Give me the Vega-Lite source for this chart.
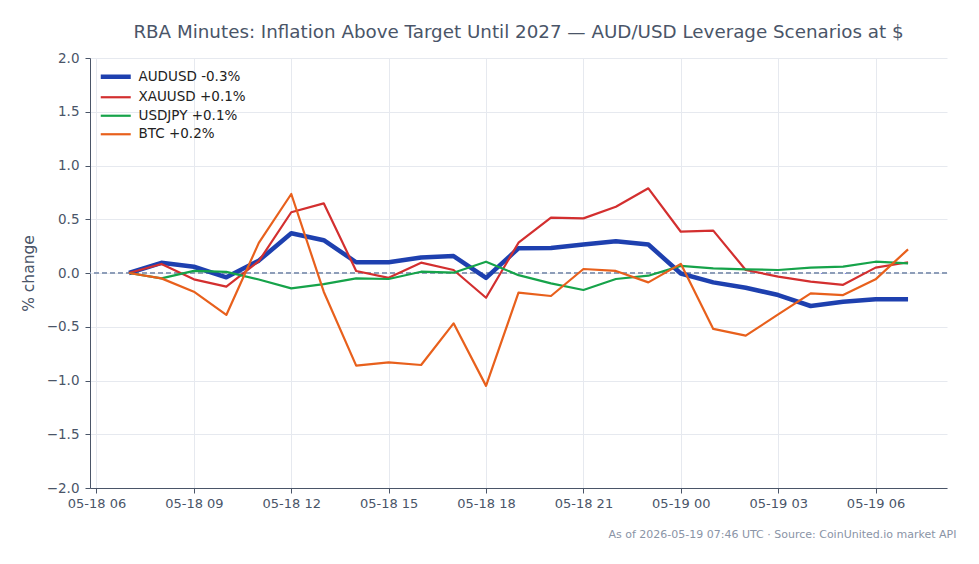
{
  "$schema": "https://vega.github.io/schema/vega-lite/v6.json",
  "autosize": "none",
  "width": 857,
  "height": 430,
  "padding": {"left": 90, "top": 58, "right": 32, "bottom": 76},
  "background": "white",
  "config": {
    "font": "DejaVu Sans",
    "view": {"stroke": null},
    "axis": {
      "labelFont": "DejaVu Sans",
      "labelFontSize": 13,
      "labelColor": "#4a5568",
      "titleFont": "DejaVu Sans",
      "titleColor": "#4a5568",
      "titleFontWeight": "normal",
      "domainColor": "#4a5568",
      "tickColor": "#4a5568",
      "tickSize": 5,
      "gridColor": "#e6e9ef",
      "gridWidth": 1
    }
  },
  "title": {
    "text": "RBA Minutes: Inflation Above Target Until 2027 — AUD/USD Leverage Scenarios at $",
    "font": "DejaVu Sans",
    "fontSize": 18.3,
    "fontWeight": "normal",
    "color": "#4a5568",
    "anchor": "middle",
    "offset": 9
  },
  "data": {
    "values": [
      {"t": "2026-05-18T07:00:00", "series": "AUDUSD -0.3%", "v": 0},
      {"t": "2026-05-18T08:00:00", "series": "AUDUSD -0.3%", "v": 0.095},
      {"t": "2026-05-18T09:00:00", "series": "AUDUSD -0.3%", "v": 0.058},
      {"t": "2026-05-18T10:00:00", "series": "AUDUSD -0.3%", "v": -0.04},
      {"t": "2026-05-18T11:00:00", "series": "AUDUSD -0.3%", "v": 0.115},
      {"t": "2026-05-18T12:00:00", "series": "AUDUSD -0.3%", "v": 0.37},
      {"t": "2026-05-18T13:00:00", "series": "AUDUSD -0.3%", "v": 0.305},
      {"t": "2026-05-18T14:00:00", "series": "AUDUSD -0.3%", "v": 0.1},
      {"t": "2026-05-18T15:00:00", "series": "AUDUSD -0.3%", "v": 0.1},
      {"t": "2026-05-18T16:00:00", "series": "AUDUSD -0.3%", "v": 0.145},
      {"t": "2026-05-18T17:00:00", "series": "AUDUSD -0.3%", "v": 0.157},
      {"t": "2026-05-18T18:00:00", "series": "AUDUSD -0.3%", "v": -0.045},
      {"t": "2026-05-18T19:00:00", "series": "AUDUSD -0.3%", "v": 0.23},
      {"t": "2026-05-18T20:00:00", "series": "AUDUSD -0.3%", "v": 0.233},
      {"t": "2026-05-18T21:00:00", "series": "AUDUSD -0.3%", "v": 0.265},
      {"t": "2026-05-18T22:00:00", "series": "AUDUSD -0.3%", "v": 0.296},
      {"t": "2026-05-18T23:00:00", "series": "AUDUSD -0.3%", "v": 0.265},
      {"t": "2026-05-19T00:00:00", "series": "AUDUSD -0.3%", "v": -0.005},
      {"t": "2026-05-19T01:00:00", "series": "AUDUSD -0.3%", "v": -0.087},
      {"t": "2026-05-19T02:00:00", "series": "AUDUSD -0.3%", "v": -0.137},
      {"t": "2026-05-19T03:00:00", "series": "AUDUSD -0.3%", "v": -0.205},
      {"t": "2026-05-19T04:00:00", "series": "AUDUSD -0.3%", "v": -0.307},
      {"t": "2026-05-19T05:00:00", "series": "AUDUSD -0.3%", "v": -0.267},
      {"t": "2026-05-19T06:00:00", "series": "AUDUSD -0.3%", "v": -0.245},
      {"t": "2026-05-19T07:00:00", "series": "AUDUSD -0.3%", "v": -0.245},
      {"t": "2026-05-18T07:00:00", "series": "XAUUSD +0.1%", "v": 0},
      {"t": "2026-05-18T08:00:00", "series": "XAUUSD +0.1%", "v": 0.084},
      {"t": "2026-05-18T09:00:00", "series": "XAUUSD +0.1%", "v": -0.059},
      {"t": "2026-05-18T10:00:00", "series": "XAUUSD +0.1%", "v": -0.127},
      {"t": "2026-05-18T11:00:00", "series": "XAUUSD +0.1%", "v": 0.11},
      {"t": "2026-05-18T12:00:00", "series": "XAUUSD +0.1%", "v": 0.565},
      {"t": "2026-05-18T13:00:00", "series": "XAUUSD +0.1%", "v": 0.648},
      {"t": "2026-05-18T14:00:00", "series": "XAUUSD +0.1%", "v": 0.019},
      {"t": "2026-05-18T15:00:00", "series": "XAUUSD +0.1%", "v": -0.045},
      {"t": "2026-05-18T16:00:00", "series": "XAUUSD +0.1%", "v": 0.096},
      {"t": "2026-05-18T17:00:00", "series": "XAUUSD +0.1%", "v": 0.028},
      {"t": "2026-05-18T18:00:00", "series": "XAUUSD +0.1%", "v": -0.23},
      {"t": "2026-05-18T19:00:00", "series": "XAUUSD +0.1%", "v": 0.282},
      {"t": "2026-05-18T20:00:00", "series": "XAUUSD +0.1%", "v": 0.515},
      {"t": "2026-05-18T21:00:00", "series": "XAUUSD +0.1%", "v": 0.508},
      {"t": "2026-05-18T22:00:00", "series": "XAUUSD +0.1%", "v": 0.617},
      {"t": "2026-05-18T23:00:00", "series": "XAUUSD +0.1%", "v": 0.788},
      {"t": "2026-05-19T00:00:00", "series": "XAUUSD +0.1%", "v": 0.384},
      {"t": "2026-05-19T01:00:00", "series": "XAUUSD +0.1%", "v": 0.394},
      {"t": "2026-05-19T02:00:00", "series": "XAUUSD +0.1%", "v": 0.028},
      {"t": "2026-05-19T03:00:00", "series": "XAUUSD +0.1%", "v": -0.034},
      {"t": "2026-05-19T04:00:00", "series": "XAUUSD +0.1%", "v": -0.08},
      {"t": "2026-05-19T05:00:00", "series": "XAUUSD +0.1%", "v": -0.11},
      {"t": "2026-05-19T06:00:00", "series": "XAUUSD +0.1%", "v": 0.05},
      {"t": "2026-05-19T07:00:00", "series": "XAUUSD +0.1%", "v": 0.1},
      {"t": "2026-05-18T07:00:00", "series": "USDJPY +0.1%", "v": 0},
      {"t": "2026-05-18T08:00:00", "series": "USDJPY +0.1%", "v": -0.05},
      {"t": "2026-05-18T09:00:00", "series": "USDJPY +0.1%", "v": 0.02},
      {"t": "2026-05-18T10:00:00", "series": "USDJPY +0.1%", "v": 0.01},
      {"t": "2026-05-18T11:00:00", "series": "USDJPY +0.1%", "v": -0.06},
      {"t": "2026-05-18T12:00:00", "series": "USDJPY +0.1%", "v": -0.143},
      {"t": "2026-05-18T13:00:00", "series": "USDJPY +0.1%", "v": -0.103},
      {"t": "2026-05-18T14:00:00", "series": "USDJPY +0.1%", "v": -0.05},
      {"t": "2026-05-18T15:00:00", "series": "USDJPY +0.1%", "v": -0.056},
      {"t": "2026-05-18T16:00:00", "series": "USDJPY +0.1%", "v": 0.012},
      {"t": "2026-05-18T17:00:00", "series": "USDJPY +0.1%", "v": 0.003},
      {"t": "2026-05-18T18:00:00", "series": "USDJPY +0.1%", "v": 0.105},
      {"t": "2026-05-18T19:00:00", "series": "USDJPY +0.1%", "v": -0.02},
      {"t": "2026-05-18T20:00:00", "series": "USDJPY +0.1%", "v": -0.096},
      {"t": "2026-05-18T21:00:00", "series": "USDJPY +0.1%", "v": -0.158},
      {"t": "2026-05-18T22:00:00", "series": "USDJPY +0.1%", "v": -0.056},
      {"t": "2026-05-18T23:00:00", "series": "USDJPY +0.1%", "v": -0.025},
      {"t": "2026-05-19T00:00:00", "series": "USDJPY +0.1%", "v": 0.066},
      {"t": "2026-05-19T01:00:00", "series": "USDJPY +0.1%", "v": 0.043},
      {"t": "2026-05-19T02:00:00", "series": "USDJPY +0.1%", "v": 0.034},
      {"t": "2026-05-19T03:00:00", "series": "USDJPY +0.1%", "v": 0.028},
      {"t": "2026-05-19T04:00:00", "series": "USDJPY +0.1%", "v": 0.05},
      {"t": "2026-05-19T05:00:00", "series": "USDJPY +0.1%", "v": 0.059},
      {"t": "2026-05-19T06:00:00", "series": "USDJPY +0.1%", "v": 0.105},
      {"t": "2026-05-19T07:00:00", "series": "USDJPY +0.1%", "v": 0.09},
      {"t": "2026-05-18T07:00:00", "series": "BTC +0.2%", "v": 0},
      {"t": "2026-05-18T08:00:00", "series": "BTC +0.2%", "v": -0.05},
      {"t": "2026-05-18T09:00:00", "series": "BTC +0.2%", "v": -0.174},
      {"t": "2026-05-18T10:00:00", "series": "BTC +0.2%", "v": -0.39},
      {"t": "2026-05-18T11:00:00", "series": "BTC +0.2%", "v": 0.28},
      {"t": "2026-05-18T12:00:00", "series": "BTC +0.2%", "v": 0.735},
      {"t": "2026-05-18T13:00:00", "series": "BTC +0.2%", "v": -0.174},
      {"t": "2026-05-18T14:00:00", "series": "BTC +0.2%", "v": -0.862},
      {"t": "2026-05-18T15:00:00", "series": "BTC +0.2%", "v": -0.831},
      {"t": "2026-05-18T16:00:00", "series": "BTC +0.2%", "v": -0.856},
      {"t": "2026-05-18T17:00:00", "series": "BTC +0.2%", "v": -0.468},
      {"t": "2026-05-18T18:00:00", "series": "BTC +0.2%", "v": -1.05},
      {"t": "2026-05-18T19:00:00", "series": "BTC +0.2%", "v": -0.183},
      {"t": "2026-05-18T20:00:00", "series": "BTC +0.2%", "v": -0.214},
      {"t": "2026-05-18T21:00:00", "series": "BTC +0.2%", "v": 0.037},
      {"t": "2026-05-18T22:00:00", "series": "BTC +0.2%", "v": 0.019},
      {"t": "2026-05-18T23:00:00", "series": "BTC +0.2%", "v": -0.087},
      {"t": "2026-05-19T00:00:00", "series": "BTC +0.2%", "v": 0.085},
      {"t": "2026-05-19T01:00:00", "series": "BTC +0.2%", "v": -0.52},
      {"t": "2026-05-19T02:00:00", "series": "BTC +0.2%", "v": -0.583},
      {"t": "2026-05-19T03:00:00", "series": "BTC +0.2%", "v": -0.385},
      {"t": "2026-05-19T04:00:00", "series": "BTC +0.2%", "v": -0.19},
      {"t": "2026-05-19T05:00:00", "series": "BTC +0.2%", "v": -0.205},
      {"t": "2026-05-19T06:00:00", "series": "BTC +0.2%", "v": -0.059},
      {"t": "2026-05-19T07:00:00", "series": "BTC +0.2%", "v": 0.22}
    ]
  },
  "layer": [
    {
      "mark": {"type": "rule", "color": "#8d9db8", "strokeWidth": 1, "strokeDash": [5, 3]},
      "encoding": {
        "y": {
          "datum": 0,
          "type": "quantitative",
          "axis": {"grid": true}
        }
      }
    },
    {
      "mark": {"type": "line", "strokeJoin": "round"},
      "encoding": {
        "x": {
          "field": "t",
          "type": "temporal",
          "scale": {
            "domain": [
              {"year": 2026, "month": 5, "date": 18, "hours": 5, "minutes": 48},
              {"year": 2026, "month": 5, "date": 19, "hours": 8, "minutes": 12}
            ]
          },
          "axis": {
            "format": "%m-%d %H",
            "values": [
              {"year": 2026, "month": 5, "date": 18, "hours": 6},
              {"year": 2026, "month": 5, "date": 18, "hours": 9},
              {"year": 2026, "month": 5, "date": 18, "hours": 12},
              {"year": 2026, "month": 5, "date": 18, "hours": 15},
              {"year": 2026, "month": 5, "date": 18, "hours": 18},
              {"year": 2026, "month": 5, "date": 18, "hours": 21},
              {"year": 2026, "month": 5, "date": 19, "hours": 0},
              {"year": 2026, "month": 5, "date": 19, "hours": 3},
              {"year": 2026, "month": 5, "date": 19, "hours": 6}
            ],
            "labelPadding": 4,
            "labelFlush": false,
            "title": "As of 2026-05-19 07:46 UTC · Source: CoinUnited.io market API",
            "titleFontSize": 11,
            "titleColor": "#8a94a6",
            "titleAnchor": "end",
            "titleAlign": "right",
            "titleBaseline": "middle",
            "titleX": 866,
            "titleY": 46
          }
        },
        "y": {
          "field": "v",
          "type": "quantitative",
          "scale": {"domain": [-2, 2], "nice": false},
          "axis": {
            "grid": true,
            "values": [-2, -1.5, -1, -0.5, 0, 0.5, 1, 1.5, 2],
            "format": ".1f",
            "labelPadding": 6,
            "labelFontSize": 13.5,
            "title": "% change",
            "titleFontSize": 15.5,
            "titlePadding": 10
          }
        },
        "color": {
          "field": "series",
          "type": "nominal",
          "sort": ["AUDUSD -0.3%", "XAUUSD +0.1%", "USDJPY +0.1%", "BTC +0.2%"],
          "scale": {
            "domain": ["AUDUSD -0.3%", "XAUUSD +0.1%", "USDJPY +0.1%", "BTC +0.2%"],
            "range": ["#1e40af", "#d32f2f", "#16a34a", "#e8601c"]
          },
          "legend": {
            "title": null,
            "orient": "none",
            "legendX": 19,
            "legendY": 12,
            "symbolType": "stroke",
            "symbolSize": 900,
            "labelFontSize": 13.5,
            "labelColor": "#222222",
            "labelFont": "DejaVu Sans",
            "labelOffset": 16,
            "rowPadding": 3.5,
            "encode": {
              "symbols": {
                "update": {
                  "strokeWidth": {"signal": "datum.value === 'AUDUSD -0.3%' ? 4.5 : 2.2"}
                }
              }
            }
          }
        },
        "strokeWidth": {
          "condition": {"test": "datum.series === 'AUDUSD -0.3%'", "value": 4.5},
          "value": 2.2
        }
      }
    }
  ]
}
